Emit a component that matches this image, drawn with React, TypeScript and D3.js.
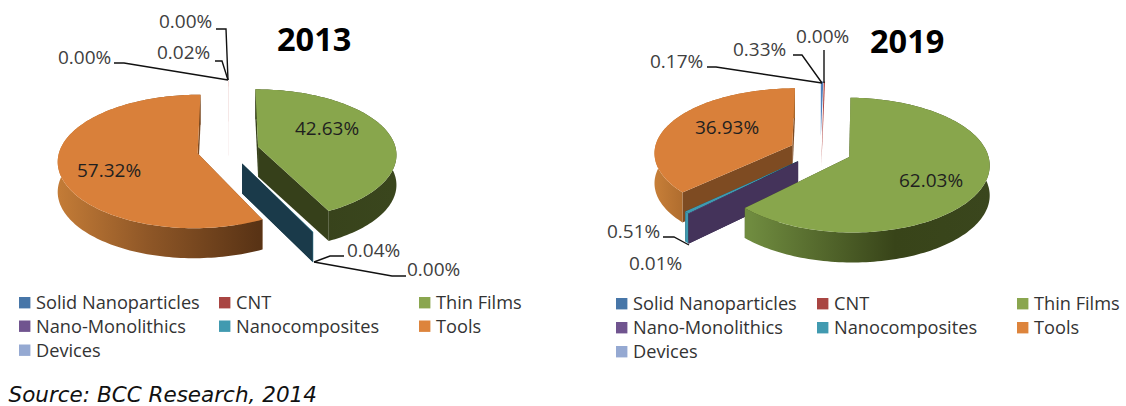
import React from "react";
import * as d3 from "d3";

const categories = ["Solid Nanoparticles", "CNT", "Thin Films", "Nano-Monolithics", "Nanocomposites", "Tools", "Devices"];
const values2013 = [0.0, 0.02, 42.63, 0.0, 0.04, 57.32, 0.0];
const values2019 = [0.33, 0.17, 62.03, 0.01, 0.51, 36.93, 0.0];

const topColors = ["#4f81bd", "#b0413e", "#88a64c", "#7c5f9c", "#3f9ab0", "#d9803a", "#95a9d2"];
const legendColors = ["#4776a8", "#a94542", "#8aa64f", "#70548f", "#419ab0", "#dd843c", "#95a9d2"];
const wallColors = ["#3a6ea5", "#8a3634", "#36401a", "#44335a", "#1a3a4a", "#7e4b22", "#95a9d2"];
const drawOrder = [5, 4, 3, 6, 0, 1, 2];

type Label = { text: string; x: number; y: number; inner?: boolean };
type Rim = { x1: number; x2: number; stops: [number, string][] };
type Chart = {
  id: string; title: string; titleX: number; titleY: number; values: number[];
  cx: number; cy: number; labels: Label[]; leaders: [number, number][][]; rims: Record<number, Rim>;
};

const charts: Chart[] = [
  {
    id: "a", title: "2013", titleX: 277, titleY: 51, values: values2013, cx: 228, cy: 150,
    labels: [
      { text: "0.00%", x: 159, y: 28 }, { text: "0.02%", x: 157, y: 59 }, { text: "0.00%", x: 58, y: 64 },
      { text: "42.63%", x: 295, y: 135, inner: true }, { text: "57.32%", x: 77, y: 177, inner: true },
      { text: "0.04%", x: 347, y: 257 }, { text: "0.00%", x: 407, y: 276 },
    ],
    leaders: [
      [[216, 29], [226, 29], [228, 80]], [[215, 61], [222, 61], [228, 80]], [[114, 63], [124, 63], [228, 80]],
      [[344, 256], [330, 256], [314, 262]], [[406, 276], [392, 276], [314, 262]],
    ],
    rims: {
      2: { x1: 260, x2: 395, stops: [[0, "#36401a"], [1, "#3a461d"]] },
      5: { x1: 57, x2: 258, stops: [[0, "#c47c37"], [0.45, "#8f5727"], [1, "#593315"]] },
    },
  },
  {
    id: "b", title: "2019", titleX: 870, titleY: 53, values: values2019, cx: 820.5, cy: 151,
    labels: [
      { text: "0.00%", x: 796, y: 43 }, { text: "0.33%", x: 733, y: 56 }, { text: "0.17%", x: 650, y: 68 },
      { text: "36.93%", x: 695, y: 134, inner: true }, { text: "62.03%", x: 899, y: 187, inner: true },
      { text: "0.51%", x: 607, y: 238 }, { text: "0.01%", x: 629, y: 270 },
    ],
    leaders: [
      [[824, 50], [824, 83]], [[793, 55], [802, 55], [822, 83]], [[707, 67], [716, 67], [822, 83]],
      [[663, 237], [674, 237], [689, 245]],
    ],
    rims: {
      2: { x1: 751, x2: 991, stops: [[0, "#6f8b3f"], [0.6, "#384419"], [1, "#3a461d"]] },
      5: { x1: 656, x2: 690, stops: [[0, "#c67e38"], [1, "#a9682c"]] },
    },
  },
];

const legendColX = [[19, 219, 419], [616, 817, 1017]];
const legendRowY = [[302.5, 326, 350], [303.5, 327.5, 351.5]];
const legendSlots: [number, number][] = [[0, 0], [1, 0], [2, 0], [0, 1], [1, 1], [2, 1], [0, 2]];

const FONT = "'Open Sans', sans-serif";
const RADIUS = 138;
const RY = 65;
const DEPTH = 30;
const EXPLODE = 0.225;
const PERSP_Y = 0.12;
const PERSP_X = 0.105;

function PieChart({ chart }: { chart: Chart }) {
  const scaleX = d3.scaleLinear().domain([-1, 1]).range([chart.cx - RADIUS, chart.cx + RADIUS]);
  const scaleY = d3.scaleLinear().domain([-1, 1]).range([chart.cy - RY, chart.cy + RY]);
  const project = (u: number, v: number, drop = 0): [number, number] => {
    const sy = 1 / (1 - PERSP_Y * v);
    const sx = 1 / (1 - PERSP_X * v);
    return [scaleX(u * sx), scaleY(v * sy) + drop];
  };
  const pie = d3.pie<number>().sort(null).value((d) => d);
  const arcs = pie(chart.values);
  const line = d3.line();
  const parts = drawOrder.map((i) => {
    const a = arcs[i];
    if (chart.values[i] <= 0) return null;
    const mid = (a.startAngle + a.endAngle) / 2;
    const ox = EXPLODE * Math.sin(mid);
    const oy = -EXPLODE * Math.cos(mid);
    const at = (t: number, r: number, drop = 0) => project(ox + r * Math.sin(t), oy - r * Math.cos(t), drop);
    const n = Math.max(2, Math.ceil((a.endAngle - a.startAngle) * 40));
    const ts = d3.range(n + 1).map((k) => a.startAngle + ((a.endAngle - a.startAngle) * k) / n);
    const outer = ts.map((t) => at(t, 1));
    const outerLow = ts.map((t) => at(t, 1, DEPTH)).reverse();
    const apex = at(0, 0);
    const apexLow = at(0, 0, DEPTH);
    const sliver = a.endAngle - a.startAngle < 0.03 && a.startAngle < 0.1;
    const wall = (t: number) => [apex, at(t, 1), at(t, 1, DEPTH), apexLow] as [number, number][];
    return {
      i,
      sliver,
      top: line([apex, ...outer])! + "Z",
      hull: line([...outer, i === 1 ? apexLow : apex])! + "Z",
      rim: line([...outer, ...outerLow])! + "Z",
      endWall: line(wall(a.endAngle))! + "Z",
      startWall: line(wall(a.startAngle))! + "Z",
    };
  });
  return (
    <g>
      <defs>
        {Object.entries(chart.rims).map(([k, r]) => (
          <linearGradient key={k} id={`rim-${chart.id}-${k}`} gradientUnits="userSpaceOnUse" x1={r.x1} x2={r.x2} y1={0} y2={0}>
            {r.stops.map(([o, c]) => <stop key={o} offset={o} stopColor={c} />)}
          </linearGradient>
        ))}
      </defs>
      {parts.map((p) => {
        if (!p) return null;
        if (p.sliver) return <path key={p.i} d={p.hull} fill={topColors[p.i]} />;
        const rimFill = chart.rims[p.i] ? `url(#rim-${chart.id}-${p.i})` : topColors[p.i];
        return (
          <g key={p.i}>
            <path d={p.endWall} fill={wallColors[p.i]} />
            <path d={p.startWall} fill={wallColors[p.i]} />
            <path d={p.rim} fill={rimFill} />
            <path d={p.top} fill={topColors[p.i]} />
          </g>
        );
      })}
      {chart.leaders.map((pts, k) => (
        <path key={k} d={line(pts)!} fill="none" stroke="#111" strokeWidth={1.4} />
      ))}
      {chart.labels.map((l, k) => (
        <text key={k} x={l.x} y={l.y} fontFamily={FONT} fontSize={19} fill={l.inner ? "#1f1f1f" : "#404040"}>{l.text}</text>
      ))}
      <text x={chart.titleX} y={chart.titleY} fontFamily={FONT} fontSize={32.5} fontWeight={700} fill="#000">{chart.title}</text>
    </g>
  );
}

export default function App() {
  return (
    <svg width={1126} height={406} style={{ position: "absolute", left: 0, top: 0, background: "#fff" }}>
      {charts.map((c) => <PieChart key={c.id} chart={c} />)}
      {legendColX.map((xs, g) =>
        categories.map((name, i) => {
          const [cc, rr] = legendSlots[i];
          const x = xs[cc];
          const y = legendRowY[g][rr];
          return (
            <g key={`${g}-${i}`}>
              <rect x={x} y={y - 5.5} width={11.4} height={11.4} fill={legendColors[i]} />
              <text x={x + 17} y={y + 6.5} fontFamily={FONT} fontSize={18.2} fill="#333">{name}</text>
            </g>
          );
        })
      )}
      <text x={8.5} y={402} fontFamily="'DejaVu Sans', sans-serif" fontStyle="italic" fontSize={21.5} fill="#111">Source: BCC Research, 2014</text>
    </svg>
  );
}
